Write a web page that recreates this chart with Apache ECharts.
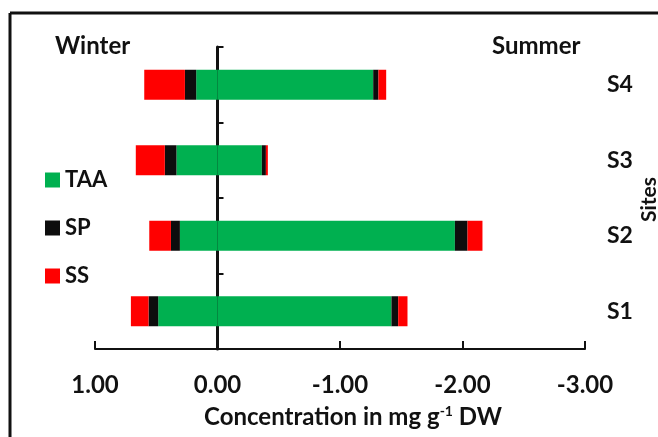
<!DOCTYPE html>
<html><head><meta charset="utf-8">
<script src="https://cdn.jsdelivr.net/npm/echarts@6/dist/echarts.min.js"></script>
<style>html,body{margin:0;padding:0;background:#fff}#c{width:658px;height:437px}</style>
</head><body><div id="c"></div>
<script>
const sites = ['S1','S2','S3','S4'];
const xTicks = [1, 0, -1, -2, -3];
// Winter (positive, plotted left)
const winterTAA = [0.484, 0.307, 0.335, 0.174];
const winterSP  = [0.079, 0.073, 0.095, 0.092];
const winterSS  = [0.144, 0.177, 0.237, 0.332];
// Summer (negative, plotted right)
const summerTAA = [-1.420, -1.938, -0.362, -1.271];
const summerSP  = [-0.055, -0.103, -0.033, -0.043];
const summerSS  = [-0.076, -0.122, -0.016, -0.063];

const FONT = 'Lato';
const colors = {TAA:'#00B050', SP:'#0D0D0D', SS:'#FF0000'};
function ser(name, data){
  return {name, type:'bar', stack:'all', data, barWidth:30,
    itemStyle:{color:colors[name]}, yAxisIndex:0};
}
const chart = echarts.init(document.getElementById('c'), null, {renderer:'canvas'});
chart.setOption({
  animation:false,
  textStyle:{fontFamily:FONT},
  grid:{left:95, right:73, top:47, bottom:88, containLabel:false},
  legend:{data:['TAA','SP','SS'], orient:'vertical', left:40, top:164,
    itemWidth:15, itemHeight:15, itemGap:26, icon:'rect',
    textStyle:{fontFamily:FONT, fontWeight:'bold', fontSize:22, color:'#111'}},
  xAxis:{type:'value', min:-3, max:1, interval:1, inverse:true,
    axisLine:{show:true, onZero:false, lineStyle:{color:'#111', width:2}},
    axisTick:{show:true, inside:true, length:8, lineStyle:{color:'#111', width:2}},
    splitLine:{show:false},
    axisLabel:{margin:24, fontFamily:FONT, fontWeight:'bold', fontSize:24, color:'#111',
      formatter:v=>v.toFixed(2)},
    name:'Concentration in mg g{sup|-1} DW', nameLocation:'middle', nameGap:55,
    nameTextStyle:{fontFamily:FONT, fontWeight:'bold', fontSize:24, color:'#111', padding:[0,0,0,26],
      rich:{sup:{fontSize:14, fontWeight:'bold', fontFamily:FONT, color:'#111', verticalAlign:'top', padding:[0,0,12,0]}}}
  },
  yAxis:[
    {type:'category', data:sites,
      axisLine:{show:true, onZero:true, lineStyle:{color:'#111', width:3}},
      axisTick:{show:true, inside:true, length:6, lineStyle:{color:'#111', width:2}},
      axisLabel:{show:false}},
    {type:'category', data:sites, position:'right',
      axisLine:{show:false}, axisTick:{show:false},
      axisLabel:{margin:22, fontFamily:FONT, fontWeight:'bold', fontSize:23, color:'#111', align:'left'}}
  ],
  series:[
    ser('TAA', winterTAA), ser('TAA', summerTAA),
    ser('SP', winterSP), ser('SP', summerSP),
    ser('SS', winterSS), ser('SS', summerSS)
  ],
  graphic:[
    {type:'line', shape:{x1:10, y1:13, x2:10, y2:437}, style:{stroke:'#111', lineWidth:3}},
    {type:'line', shape:{x1:10, y1:13, x2:658, y2:13}, style:{stroke:'#111', lineWidth:3}},
    {type:'text', left:55, top:34, style:{text:'Winter', fontFamily:FONT, fontWeight:'bold', fontSize:24, fill:'#111'}},
    {type:'text', left:492, top:34, style:{text:'Summer', fontFamily:FONT, fontWeight:'bold', fontSize:24, fill:'#111'}},
    {type:'text', x:639, y:222, rotation:Math.PI/2, style:{text:'Sites', fontFamily:FONT, fontWeight:'bold', fontSize:21, fill:'#111'}}
  ]
});
</script></body></html>
